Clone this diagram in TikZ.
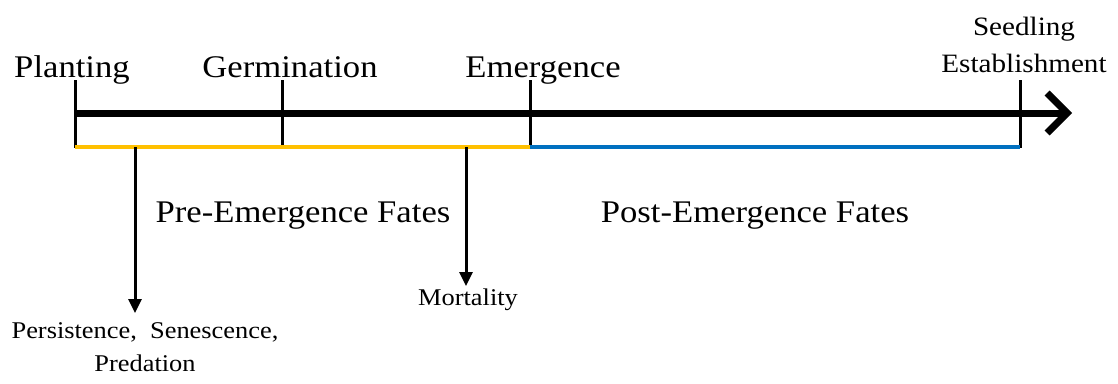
\documentclass[tikz,border=0pt]{standalone}
\usepackage{fontspec}
\setmainfont{Liberation Serif}[FakeStretch=1.1]
\usetikzlibrary{arrows.meta}
\definecolor{preC}{HTML}{FFC000}
\definecolor{postC}{HTML}{0070C0}
\begin{document}
\begin{tikzpicture}[x=1pt,y=-1pt,
  big/.style={font=\fontsize{31.5}{36}\selectfont, inner sep=0pt, anchor=base},
  mid/.style={font=\fontsize{26.5}{37}\selectfont, inner sep=0pt, anchor=base, align=center},
  small/.style={font=\fontsize{24}{33}\selectfont, inner sep=0pt, align=center},
  tick/.style={line width=3pt},
  fate/.style={line width=3pt, -{Triangle[length=14pt,width=13pt]}}]
\useasboundingbox (0,0) rectangle (1118,383);
% axis
\coordinate (a0) at (75,113);
\coordinate (aend) at (1072,113);
\draw[line width=7pt, -{Straight Barb[length=20pt,width=40pt,line width=7pt]}] (a0) -- (aend);
% ticks
\coordinate (pT) at (75,80); \coordinate (pB) at (75,148);
\coordinate (gT) at (282,80); \coordinate (gB) at (282,146);
\coordinate (eT) at (530,80); \coordinate (eB) at (530,148);
\coordinate (sT) at (1020,80); \coordinate (sB) at (1020,148);
\draw[tick] (pT) -- (pB);
\draw[tick] (gT) -- (gB);
\draw[tick] (eT) -- (eB);
\draw[tick] (sT) -- (sB);
% fate bars
\draw[line width=3.5pt, preC] (75,147) -- (530,147);
\draw[line width=3.5pt, postC] (530,147) -- (1020,147);
% labels
\node[big] (plant) at (72,77) {Planting};
\node[big] (germ) at (290,77) {Germination};
\node[big] (emer) at (543,77) {Emergence};
\node[mid] (seed) at (1024,72) {Seedling\\Establishment};
\node[big] (pre) at (303,222) {Pre-Emergence Fates};
\node[big] (post) at (755,222) {Post-Emergence Fates};
\node[small, anchor=north] (pers) at (145,322) {Persistence, \ Senescence,\\Predation};
\node[small, anchor=north] (mort) at (468,289) {Mortality};
% fate arrows
\coordinate (f1) at (135,147);
\coordinate (f1e) at (135,313);
\coordinate (f2) at (466,147);
\coordinate (f2e) at (466,286);
\draw[fate] (f1) -- (f1e);
\draw[fate] (f2) -- (f2e);
\end{tikzpicture}
\end{document}
